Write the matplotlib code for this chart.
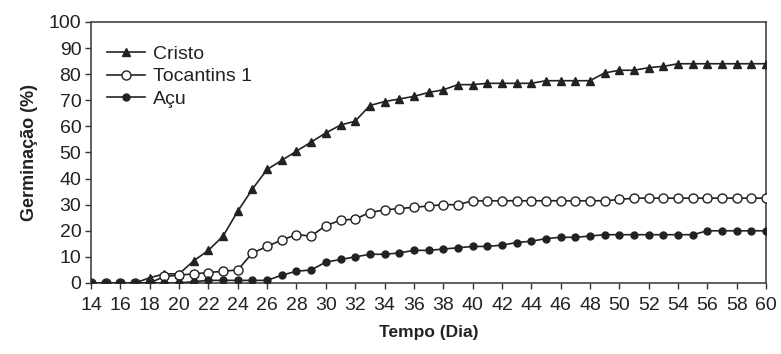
import matplotlib
matplotlib.use("Agg")
import matplotlib.pyplot as plt

days = list(range(14, 61))

cristo = [0, 0, 0, 0, 2, 3.5, 3.5, 8.5, 12.5, 18, 27.5, 36, 43.5, 47, 50.5, 54,
          57.5, 60.5, 62, 68, 69.5, 70.5, 71.5, 73, 74, 76, 76, 76.5, 76.5, 76.5,
          76.5, 77.5, 77.5, 77.5, 77.5, 80.5, 81.5, 81.5, 82.5, 83, 84, 84, 84,
          84, 84, 84, 84]
tocantins = [0, 0, 0, 0, 0, 2.5, 3, 3.5, 4, 4.5, 5, 11.5, 14, 16.5, 18.5, 18,
             22, 24, 24.5, 27, 28, 28.5, 29, 29.5, 30, 30, 31.5, 31.5, 31.5, 31.5,
             31.5, 31.5, 31.5, 31.5, 31.5, 31.5, 32, 32.5, 32.5, 32.5, 32.5, 32.5,
             32.5, 32.5, 32.5, 32.5, 32.5]
acu = [0, 0, 0, 0, 0, 0, 0, 0.5, 1, 1, 1, 1, 1, 3, 4.5, 5, 8, 9, 10, 11, 11,
       11.5, 12.5, 12.5, 13, 13.5, 14, 14, 14.5, 15.5, 16, 17, 17.5, 17.5, 18,
       18.5, 18.5, 18.5, 18.5, 18.5, 18.5, 18.5, 20, 20, 20, 20, 20]

labels = ["Cristo", "Tocantins 1", "Açu"]
xticks = list(range(14, 61, 2))
yticks = list(range(0, 101, 10))

plt.rcParams['font.family'] = ['Liberation Sans', 'DejaVu Sans']

fig = plt.figure(figsize=(7.81, 3.54), dpi=100)
ax = fig.add_axes([0.1165, 0.2006, 0.8645, 0.7373])

lc = '#222222'
ax.plot(days, cristo, color=lc, lw=1.2, marker='^', ms=5.5, mfc=lc, mec=lc,
        label=labels[0], zorder=3)
ax.plot(days, tocantins, color=lc, lw=1.2, marker='o', ms=6.5, mfc='white',
        mec=lc, mew=1.0, label=labels[1], zorder=4)
ax.plot(days, acu, color=lc, lw=1.2, marker='o', ms=5, mfc=lc, mec=lc,
        label=labels[2], zorder=5)

ax.set_xlim(14, 60)
ax.set_ylim(0, 100)
ax.set_xticks(xticks)
ax.set_yticks(yticks)
ax.tick_params(axis='both', direction='out', length=4, width=1, colors='#333333',
               labelsize=14, labelcolor='#222222')
ax.tick_params(axis='x', pad=6)
ax.tick_params(axis='y', pad=3)
for s in ax.spines.values():
    s.set_color('#444444')
    s.set_linewidth(1.2)

ax.set_xlabel('Tempo (Dia)', fontsize=12.5, fontweight='bold', color='#222222', labelpad=8)
ax.set_ylabel('Germinação (%)', fontsize=13, fontweight='bold', color='#222222', labelpad=8)

leg = ax.legend(loc='upper left', frameon=False, fontsize=14, handlelength=2.0,
                handletextpad=0.4, labelspacing=0.25, borderaxespad=0.4,
                bbox_to_anchor=(0.0, 0.97))
for t in leg.get_texts():
    t.set_color('#222222')

fig.savefig('out.png', dpi=100)
